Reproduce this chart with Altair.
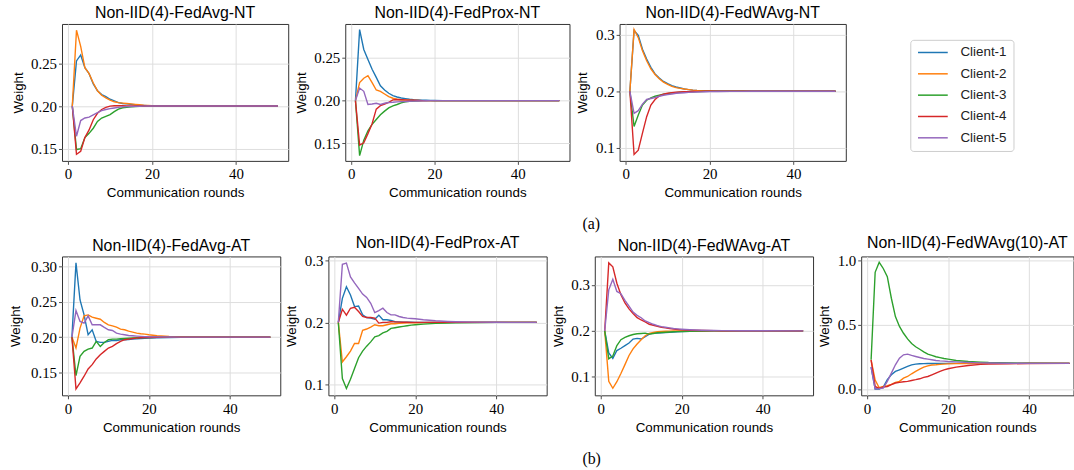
import altair as alt
import pandas as pd

ROUNDS = [1, 2, 3, 4, 5, 6, 7, 8, 9, 10, 11, 12, 13, 14, 15, 16, 17, 18, 19, 20,
          22, 25, 28, 30, 35, 40, 50]
CLIENTS = ["Client-1", "Client-2", "Client-3", "Client-4", "Client-5"]
COLORS = ["#1f77b4", "#ff7f0e", "#2ca02c", "#d62728", "#9467bd"]

# ---- (a) no-tuning runs ----
FEDAVG_NT = [
    [0.2, 0.253, 0.26, 0.245, 0.238, 0.226, 0.218, 0.2135, 0.211, 0.208,
     0.206, 0.204, 0.203, 0.2025, 0.202, 0.2015, 0.201, 0.2008, 0.2005, 0.2003,
     0.2001, 0.2, 0.2, 0.2, 0.2, 0.2, 0.2],
    [0.2, 0.289, 0.27, 0.245, 0.238, 0.227, 0.218, 0.2127, 0.2096, 0.207,
     0.205, 0.204, 0.2035, 0.203, 0.2025, 0.202, 0.2015, 0.201, 0.2008, 0.2005,
     0.2002, 0.2, 0.2, 0.2, 0.2, 0.2, 0.2],
    [0.2, 0.149, 0.15, 0.163, 0.168, 0.174, 0.182, 0.186, 0.188, 0.19,
     0.1935, 0.1965, 0.198, 0.1985, 0.199, 0.1995, 0.1997, 0.1998, 0.1999, 0.2,
     0.2, 0.2, 0.2, 0.2, 0.2, 0.2, 0.2],
    [0.2, 0.1435, 0.147, 0.163, 0.172, 0.184, 0.1915, 0.196, 0.1985, 0.2,
     0.2004, 0.2004, 0.2003, 0.2002, 0.2001, 0.2, 0.2, 0.2, 0.2, 0.2,
     0.2, 0.2, 0.2, 0.2, 0.2, 0.2, 0.2],
    [0.2, 0.1646, 0.183, 0.186, 0.187, 0.1896, 0.1923, 0.1946, 0.196, 0.197,
     0.1977, 0.1985, 0.199, 0.1993, 0.1995, 0.1997, 0.1998, 0.1999, 0.2, 0.2,
     0.2, 0.2, 0.2, 0.2, 0.2, 0.2, 0.2],
]
FEDPROX_NT = [
    [0.2, 0.2827, 0.2596, 0.248, 0.2365, 0.227, 0.2173, 0.2123, 0.2085, 0.2058,
     0.2042, 0.203, 0.2022, 0.2015, 0.201, 0.2007, 0.2005, 0.2003, 0.2002, 0.2001,
     0.2, 0.2, 0.2, 0.2, 0.2, 0.2, 0.2],
    [0.2, 0.221, 0.226, 0.229, 0.221, 0.2123, 0.2108, 0.2077, 0.2046, 0.2027,
     0.2015, 0.201, 0.2005, 0.2003, 0.2002, 0.2001, 0.2, 0.2, 0.2, 0.2,
     0.2, 0.2, 0.2, 0.2, 0.2, 0.2, 0.2],
    [0.2, 0.1358, 0.1538, 0.1646, 0.1723, 0.178, 0.1835, 0.1877, 0.1915, 0.1938,
     0.1954, 0.1973, 0.1985, 0.1992, 0.1995, 0.1998, 0.1999, 0.2, 0.2, 0.2,
     0.2, 0.2, 0.2, 0.2, 0.2, 0.2, 0.2],
    [0.2, 0.148, 0.1508, 0.1615, 0.173, 0.19, 0.194, 0.196, 0.198, 0.2008,
     0.2012, 0.201, 0.2008, 0.2005, 0.2003, 0.2001, 0.2, 0.2, 0.2, 0.2,
     0.2, 0.2, 0.2, 0.2, 0.2, 0.2, 0.2],
    [0.2, 0.2146, 0.2108, 0.1954, 0.196, 0.1969, 0.1954, 0.1969, 0.1977, 0.198,
     0.1985, 0.1988, 0.199, 0.1992, 0.1994, 0.1995, 0.1997, 0.1998, 0.1999, 0.2,
     0.2, 0.2, 0.2, 0.2, 0.2, 0.2, 0.2],
]
FEDWAVG_NT = [
    [0.2, 0.3076, 0.2988, 0.2744, 0.257, 0.2424, 0.2308, 0.2233, 0.2174, 0.2134,
     0.2099, 0.2076, 0.2058, 0.2041, 0.2029, 0.202, 0.2014, 0.201, 0.2007, 0.2005,
     0.2002, 0.2001, 0.2, 0.2, 0.2, 0.2, 0.2],
    [0.2, 0.3093, 0.2948, 0.2715, 0.254, 0.2395, 0.2297, 0.2221, 0.2163, 0.2122,
     0.2087, 0.2064, 0.2052, 0.204, 0.203, 0.202, 0.2014, 0.201, 0.2007, 0.2005,
     0.2002, 0.2001, 0.2, 0.2, 0.2, 0.2, 0.2],
    [0.2, 0.1378, 0.1581, 0.1756, 0.1843, 0.1884, 0.1913, 0.193, 0.1948, 0.1959,
     0.1971, 0.1977, 0.1983, 0.1987, 0.199, 0.1993, 0.1995, 0.1997, 0.1998, 0.1999,
     0.2, 0.2, 0.2, 0.2, 0.2, 0.2, 0.2],
    [0.2, 0.0884, 0.0959, 0.1262, 0.1552, 0.1756, 0.1855, 0.1919, 0.1948, 0.1965,
     0.1977, 0.1983, 0.1988, 0.1992, 0.1995, 0.1997, 0.1998, 0.1999, 0.2, 0.2,
     0.2, 0.2, 0.2, 0.2, 0.2, 0.2, 0.2],
    [0.2, 0.161, 0.1657, 0.1773, 0.1855, 0.1872, 0.189, 0.1913, 0.193, 0.1942,
     0.1953, 0.1965, 0.197, 0.1975, 0.198, 0.1985, 0.1988, 0.199, 0.1992, 0.1994,
     0.1996, 0.1998, 0.1999, 0.2, 0.2, 0.2, 0.2],
]

# ---- (b) adversarial-tuning runs ----
FEDAVG_AT = [
    [0.2, 0.3047, 0.2523, 0.2313, 0.2033, 0.2103, 0.1939, 0.1925, 0.1925, 0.1939,
     0.1953, 0.1953, 0.1963, 0.1963, 0.1967, 0.1972, 0.1975, 0.198, 0.1983, 0.1986,
     0.199, 0.1995, 0.1997, 0.1998, 0.1999, 0.2, 0.2],
    [0.2, 0.1846, 0.2126, 0.2299, 0.2313, 0.228, 0.2266, 0.2252, 0.2206, 0.2173,
     0.2159, 0.214, 0.2112, 0.2103, 0.2084, 0.207, 0.2056, 0.2047, 0.2042, 0.2033,
     0.2019, 0.2009, 0.2005, 0.2003, 0.2001, 0.2, 0.2],
    [0.2, 0.1458, 0.1729, 0.1799, 0.1832, 0.1846, 0.1939, 0.1869, 0.1925, 0.1963,
     0.1972, 0.1972, 0.1977, 0.1981, 0.1984, 0.1987, 0.199, 0.1992, 0.1994, 0.1995,
     0.1997, 0.1998, 0.1999, 0.2, 0.2, 0.2, 0.2],
    [0.2, 0.1271, 0.1355, 0.1449, 0.1551, 0.1612, 0.1692, 0.1752, 0.1799, 0.1846,
     0.1869, 0.1907, 0.1939, 0.1963, 0.1972, 0.1981, 0.1986, 0.199, 0.1993, 0.1995,
     0.1997, 0.1999, 0.2, 0.2, 0.2, 0.2, 0.2],
    [0.2, 0.2374, 0.222, 0.2196, 0.2299, 0.2173, 0.2173, 0.2173, 0.2136, 0.2103,
     0.2093, 0.2056, 0.2042, 0.2033, 0.2023, 0.2019, 0.2014, 0.201, 0.2007, 0.2005,
     0.2003, 0.2001, 0.2, 0.2, 0.2, 0.2, 0.2],
]
FEDPROX_AT = [
    [0.2, 0.239, 0.2578, 0.2444, 0.2257, 0.2267, 0.2123, 0.208, 0.207, 0.2053,
     0.2118, 0.2043, 0.2043, 0.2032, 0.2011, 0.2008, 0.2005, 0.2003, 0.2002, 0.2001,
     0.2, 0.2, 0.2, 0.2, 0.2, 0.2, 0.2],
    [0.2, 0.1358, 0.1444, 0.1535, 0.1658, 0.1658, 0.1872, 0.1893, 0.1925, 0.1963,
     0.1947, 0.1947, 0.1963, 0.1979, 0.1979, 0.1984, 0.1989, 0.1992, 0.1994, 0.1995,
     0.1997, 0.1999, 0.2, 0.2, 0.2, 0.2, 0.2],
    [0.2, 0.1091, 0.093, 0.108, 0.1251, 0.1428, 0.1535, 0.1615, 0.1684, 0.1765,
     0.1786, 0.1829, 0.1856, 0.1904, 0.1914, 0.1925, 0.1936, 0.1947, 0.1957, 0.1963,
     0.1973, 0.1984, 0.199, 0.1995, 0.1998, 0.2, 0.2],
    [0.2, 0.2214, 0.2118, 0.223, 0.2246, 0.2176, 0.2096, 0.208, 0.208, 0.207,
     0.1989, 0.2, 0.2, 0.2011, 0.2008, 0.2005, 0.2003, 0.2002, 0.2001, 0.2,
     0.2, 0.2, 0.2, 0.2, 0.2, 0.2, 0.2],
    [0.2, 0.2941, 0.2963, 0.2738, 0.2642, 0.2551, 0.246, 0.2406, 0.231, 0.216,
     0.2193, 0.223, 0.216, 0.2123, 0.2123, 0.2096, 0.208, 0.207, 0.2064, 0.2059,
     0.2043, 0.2027, 0.2016, 0.2011, 0.2005, 0.2002, 0.2],
]
FEDWAVG_AT = [
    [0.2, 0.152, 0.14, 0.1571, 0.1621, 0.1679, 0.1736, 0.1821, 0.1836, 0.1821,
     0.1871, 0.1929, 0.195, 0.195, 0.1957, 0.1964, 0.197, 0.1975, 0.1979, 0.1983,
     0.199, 0.1995, 0.1998, 0.1999, 0.2, 0.2, 0.2],
    [0.2, 0.09, 0.075, 0.0893, 0.1071, 0.1264, 0.1464, 0.1607, 0.1714, 0.1807,
     0.1893, 0.1943, 0.1964, 0.1979, 0.1986, 0.199, 0.1993, 0.1995, 0.1996, 0.1997,
     0.1998, 0.1999, 0.2, 0.2, 0.2, 0.2, 0.2],
    [0.2, 0.1393, 0.145, 0.1679, 0.1807, 0.1857, 0.1893, 0.1921, 0.1936, 0.1943,
     0.195, 0.1929, 0.1943, 0.1957, 0.1964, 0.197, 0.1975, 0.198, 0.1984, 0.1987,
     0.1992, 0.1996, 0.1998, 0.1999, 0.2, 0.2, 0.2],
    [0.2, 0.3479, 0.3393, 0.3036, 0.2786, 0.2607, 0.2479, 0.2379, 0.2286, 0.2236,
     0.2193, 0.2143, 0.2121, 0.21, 0.2079, 0.2064, 0.205, 0.2036, 0.2029, 0.2021,
     0.2014, 0.2007, 0.2004, 0.2003, 0.2001, 0.2, 0.2],
    [0.2, 0.2893, 0.3121, 0.2857, 0.2807, 0.2664, 0.2536, 0.2407, 0.2336, 0.2286,
     0.2214, 0.2179, 0.2143, 0.2114, 0.2093, 0.2079, 0.2064, 0.205, 0.2043, 0.2036,
     0.2025, 0.2014, 0.2008, 0.2005, 0.2002, 0.2001, 0.2],
]
FEDWAVG10_AT = [
    [0.171, 0.0, 0.0, 0.016, 0.073, 0.111, 0.137, 0.15, 0.163, 0.176,
     0.189, 0.194, 0.197, 0.198, 0.199, 0.1995, 0.2, 0.2, 0.2, 0.2,
     0.2, 0.2, 0.2, 0.2, 0.2, 0.2, 0.2],
    [0.225, 0.07, 0.01, 0.02, 0.026, 0.036, 0.052, 0.06, 0.085, 0.098,
     0.119, 0.137, 0.155, 0.171, 0.181, 0.187, 0.189, 0.192, 0.194, 0.196,
     0.198, 0.199, 0.2, 0.2, 0.2, 0.2, 0.2],
    [0.228, 0.91, 0.988, 0.94, 0.876, 0.708, 0.565, 0.488, 0.435, 0.391,
     0.355, 0.33, 0.31, 0.29, 0.272, 0.262, 0.252, 0.245, 0.238, 0.233,
     0.223, 0.215, 0.21, 0.207, 0.203, 0.201, 0.2],
    [0.228, 0.02, 0.005, 0.016, 0.02, 0.034, 0.047, 0.052, 0.057, 0.06,
     0.067, 0.073, 0.08, 0.091, 0.098, 0.111, 0.124, 0.137, 0.15, 0.158,
     0.171, 0.184, 0.192, 0.194, 0.197, 0.199, 0.2],
    [0.171, 0.0, 0.003, 0.008, 0.06, 0.124, 0.189, 0.241, 0.267, 0.272,
     0.262, 0.254, 0.246, 0.238, 0.233, 0.228, 0.223, 0.22, 0.218, 0.215,
     0.212, 0.207, 0.204, 0.203, 0.201, 0.2, 0.2],
]

TITLES_A = ["Non-IID(4)-FedAvg-NT", "Non-IID(4)-FedProx-NT", "Non-IID(4)-FedWAvg-NT"]
TITLES_B = ["Non-IID(4)-FedAvg-AT", "Non-IID(4)-FedProx-AT", "Non-IID(4)-FedWAvg-AT",
            "Non-IID(4)-FedWAvg(10)-AT"]
X_TICKS = [0, 20, 40]

SANS = "Liberation Sans"
SERIF = "Liberation Serif"

LEGEND = alt.Legend(
    title=None, orient="none", legendX=855, legendY=16,
    symbolType="M-1,0H5", symbolSize=100, symbolStrokeWidth=1.5,
    labelFont=SANS, labelFontSize=13.5, labelColor="#222222", labelOffset=31,
    padding=6, rowPadding=6.5, strokeColor="#cccccc", fillColor="white",
    cornerRadius=3,
)


def panel(title, series, ydom, yticks, yfmt, w, h, extent, ytp=5.0, xmax=52.45):
    rows = []
    for cname, vals in zip(CLIENTS, series):
        assert len(vals) == len(ROUNDS), (title, cname, len(vals))
        for r, v in zip(ROUNDS, vals):
            rows.append({"round": r, "weight": v, "client": cname})
    df = pd.DataFrame(rows)
    return alt.Chart(df).mark_line(strokeWidth=1.4, clip=True).encode(
        x=alt.X("round:Q",
                scale=alt.Scale(domain=[-1.45, xmax], nice=False, zero=False),
                axis=alt.Axis(values=X_TICKS, format="d", title="Communication rounds",
                              minExtent=21, maxExtent=21, titlePadding=4)),
        y=alt.Y("weight:Q",
                scale=alt.Scale(domain=ydom, nice=False, zero=False),
                axis=alt.Axis(values=yticks, format=yfmt, title="Weight",
                              minExtent=extent, maxExtent=extent, titlePadding=ytp)),
        color=alt.Color("client:N", scale=alt.Scale(domain=CLIENTS, range=COLORS),
                        legend=LEGEND),
    ).properties(width=w, height=h, title=title)


p1 = panel(TITLES_A[0], FEDAVG_NT, [0.1357, 0.2963], [0.15, 0.20, 0.25], ".2f", 228, 138, 32)
p2 = panel(TITLES_A[1], FEDPROX_NT, [0.1297, 0.2893], [0.15, 0.20, 0.25], ".2f", 226, 138, 32)
p3 = panel(TITLES_A[2], FEDWAVG_NT, [0.077, 0.319], [0.1, 0.2, 0.3], ".1f", 228, 138, 25)

p5 = panel(TITLES_B[0], FEDAVG_AT, [0.118, 0.3136], [0.15, 0.20, 0.25, 0.30], ".2f", 220, 140, 32, ytp=8)
p6 = panel(TITLES_B[1], FEDPROX_AT, [0.0818, 0.307], [0.1, 0.2, 0.3], ".1f", 220, 140, 25)
p7 = panel(TITLES_B[2], FEDWAVG_AT, [0.0596, 0.362], [0.1, 0.2, 0.3], ".1f", 220, 140, 25)
p8 = panel(TITLES_B[3], FEDWAVG10_AT, [-0.049, 1.034], [0.0, 0.5, 1.0], ".1f", 214, 140, 25,
           xmax=50.97)

row_a = alt.hconcat(
    p1, p2, p3, spacing=4.5,
    title=alt.TitleParams("(a)", orient="bottom", anchor="start", dx=524.5, offset=17,
                          font=SERIF, fontSize=16, fontWeight="normal", color="black"),
)
row_b = alt.hconcat(
    p5, p6, p7, p8, spacing=2.5,
    title=alt.TitleParams("(b)", orient="bottom", anchor="start", dx=524.5, offset=17.5,
                          font=SERIF, fontSize=16, fontWeight="normal", color="black"),
)

chart = alt.vconcat(row_a, row_b, spacing=2.3).properties(
    padding={"left": 7.5, "top": 2.3, "right": 0, "bottom": 0},
    background="white",
).configure_view(
    stroke="#333333", strokeWidth=1,
).configure_axis(
    labelFont=SERIF, labelFontSize=15, labelColor="black", labelPadding=2,
    titleFont=SANS, titleFontSize=13.5, titleFontWeight="normal", titleColor="black",
    tickSize=3.5, tickWidth=0.8, tickColor="#222222",
    domain=False, grid=True, gridColor="#dedede", gridWidth=1,
).configure_axisX(
    labelPadding=2.5,
).configure_title(
    font=SANS, fontSize=16, fontWeight="normal", color="black", offset=2.7,
    anchor="middle", frame="group",
)

chart.save("out.html", embed_options={"renderer": "svg", "actions": False})
